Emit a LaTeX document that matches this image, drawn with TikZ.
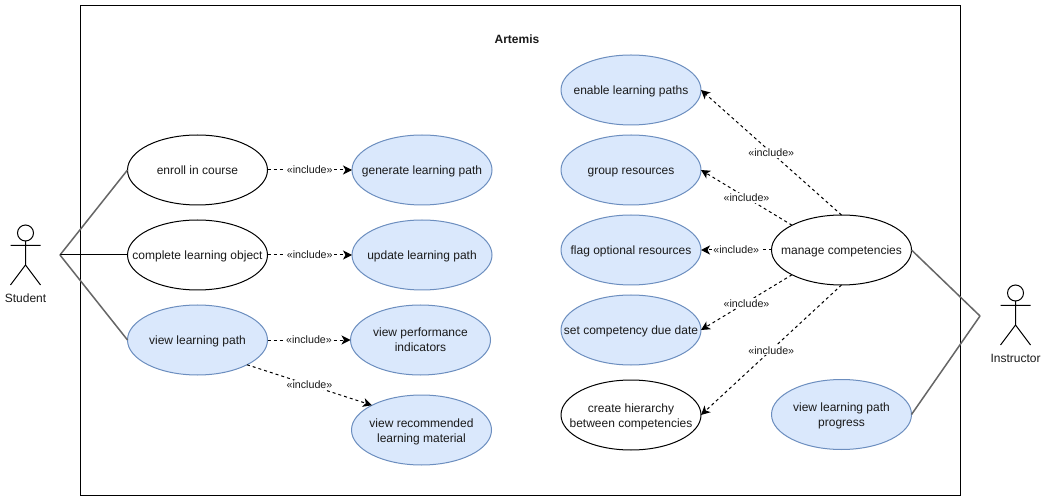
\documentclass[tikz,border=0pt]{standalone}
\usepackage{fontspec}
\setmainfont{Liberation Sans}
\usetikzlibrary{shapes.geometric,arrows.meta}
\definecolor{ucblue}{HTML}{DAE8FC}
\definecolor{ucedge}{HTML}{6C8EBF}
\definecolor{assoc}{HTML}{666666}
\definecolor{ink}{HTML}{1A1A1A}
\newcommand\uct[1]{\makebox[0pt]{\raisebox{-4.5pt}[0pt][0pt]{\begin{tabular}{@{}c@{}}#1\end{tabular}}}}
\tikzset{
  x=1pt,y=-1pt,
  uc/.style={ellipse,draw=black,fill=white,line width=1pt,minimum width=140pt,minimum height=70pt,inner sep=0pt,outer sep=0pt,text=ink,font=\fontsize{12}{15}\selectfont},
  ucb/.style={uc,draw=ucedge,fill=ucblue},
  incl/.style={draw=black,line width=1pt,dash pattern=on 3pt off 3pt,-{Stealth[length=9pt,width=9pt,inset=2.5pt]}},
  incllab/.style={fill=white,inner sep=1pt,text=ink,font=\fontsize{10.7}{12}\selectfont},
  gline/.style={draw=assoc,line width=1.5pt},
  actor/.style={draw=black,line width=1pt},
  actorlab/.style={inner sep=0pt,text=ink,font=\fontsize{12}{15}\selectfont},
}
\begin{document}
\begin{tikzpicture}
\useasboundingbox (0,0) rectangle (1046,502);
\fill[white] (0,0) rectangle (1046,502);
\node[draw=black,line width=1pt,minimum width=880pt,minimum height=490pt,inner sep=0pt,outer sep=0pt] (frame) at (520.5,250.5) {};
\node[inner sep=0pt,font=\fontsize{12}{15}\selectfont\bfseries,text=ink] (title) at (517,39) {Artemis};

% left use cases
\node[uc]  (enroll)   at (197.5,170) {\uct{enroll in course}};
\node[uc]  (complete) at (197.5,255) {\uct{complete learning object}};
\node[ucb] (viewpath) at (197.5,340) {\uct{view learning path}};
\node[ucb] (generate) at (422,170) {\uct{generate learning path}};
\node[ucb] (update)   at (422,255) {\uct{update learning path}};
\node[ucb] (perf)     at (420.5,340) {\uct{view performance\\indicators}};
\node[ucb] (recomm)   at (421.5,430) {\uct{view recommended\\learning material}};

% right use cases
\node[ucb] (enable) at (631,90) {\uct{enable learning paths}};
\node[ucb] (group)  at (631,170) {\uct{group resources}};
\node[ucb] (flag)   at (631,250) {\uct{flag optional resources}};
\node[ucb] (due)    at (631,330) {\uct{set competency due date}};
\node[uc]  (hier)   at (631,415) {\uct{create hierarchy\\between competencies}};
\node[uc]  (manage) at (841.5,250) {\uct{manage competencies}};
\node[ucb] (prog)   at (841.5,414.5) {\uct{view learning path\\progress}};

% student
\node[circle,actor,minimum size=16pt,inner sep=0pt,outer sep=0pt] (shead) at (25.5,233) {};
\coordinate (sarml) at (10.5,245.5);
\coordinate (sarmr) at (40.5,245.5);
\coordinate (ship) at (25.5,265);
\coordinate (slegl) at (10.5,285);
\coordinate (slegr) at (40.5,285);
\draw[actor] (shead.south) -- (ship) (sarml) -- (sarmr) (slegl) -- (ship) -- (slegr);
\node[actorlab] (slab) at (25.5,298) {Student};
\coordinate (sjoin) at (60,255);

% instructor
\node[circle,actor,minimum size=16pt,inner sep=0pt,outer sep=0pt] (ihead) at (1015.5,293) {};
\coordinate (iarml) at (1000.5,305.5);
\coordinate (iarmr) at (1030.5,305.5);
\coordinate (ihip) at (1015.5,325);
\coordinate (ilegl) at (1000.5,345);
\coordinate (ilegr) at (1030.5,345);
\draw[actor] (ihead.south) -- (ihip) (iarml) -- (iarmr) (ilegl) -- (ihip) -- (ilegr);
\node[actorlab] (ilab) at (1015.5,358.5) {Instructor};
\coordinate (ijoin) at (980,316);

% associations
\draw[gline] (sjoin) -- (enroll.west);
\draw[draw=black,line width=1pt] (sjoin) -- (complete.west);
\draw[gline] (sjoin) -- (viewpath.west);
\draw[gline] (ijoin) -- (manage.east);
\draw[gline] (ijoin) -- (prog.east);

% includes
\draw[incl] (enroll.east) -- node[incllab] {«include»} (generate.west);
\draw[incl] (complete.east) -- node[incllab] {«include»} (update.west);
\draw[incl] (viewpath.east) -- node[incllab] {«include»} (perf.west);
\draw[incl] (viewpath.south east) -- node[incllab] {«include»} (recomm.north west);
\draw[incl] (manage.north) -- node[incllab,yshift=-0.5pt] {«include»} (enable.east);
\draw[incl] (manage.north west) -- node[incllab] {«include»} (group.east);
\draw[incl] (manage.west) -- node[incllab] {«include»} (flag.east);
\draw[incl] (manage.south west) -- node[incllab,yshift=-1pt] {«include»} (due.east);
\draw[incl] (manage.south) -- node[incllab,yshift=-0.5pt] {«include»} (hier.east);
\end{tikzpicture}
\end{document}
